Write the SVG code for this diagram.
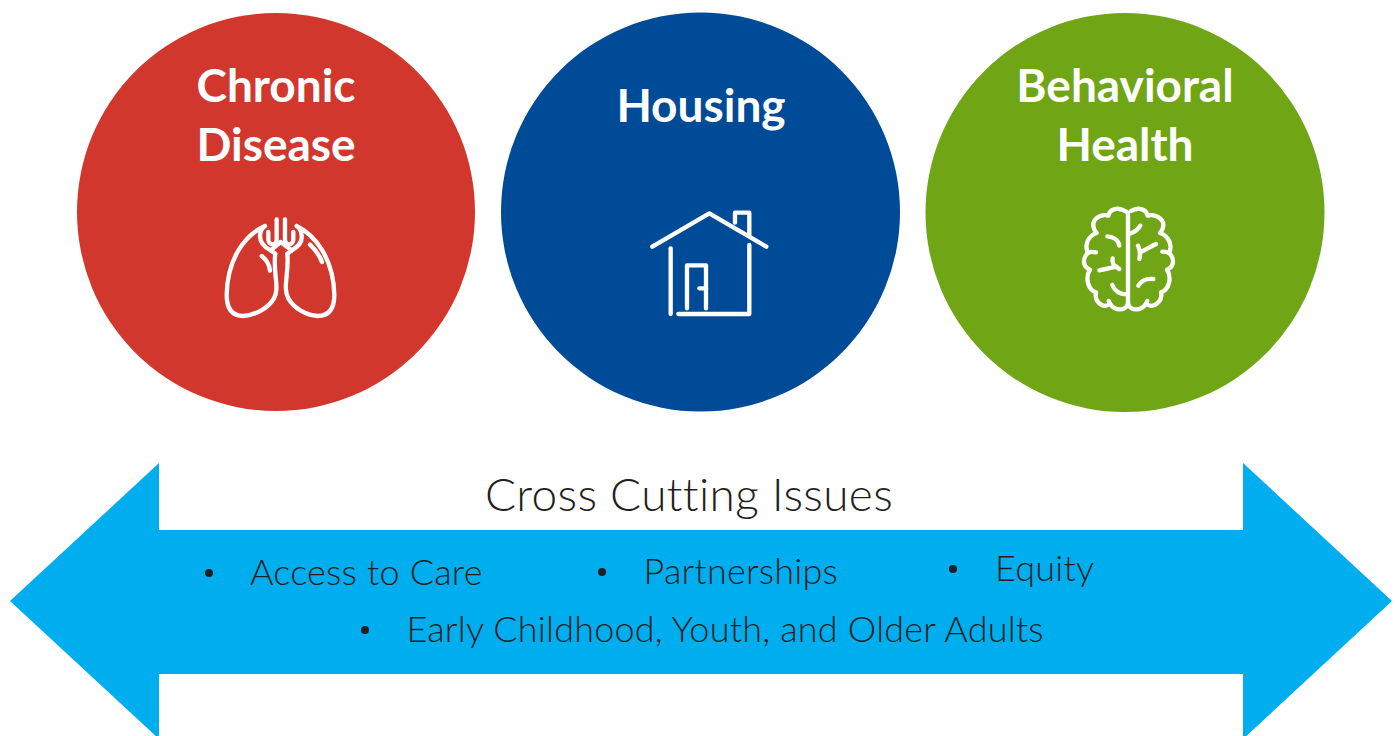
<svg xmlns="http://www.w3.org/2000/svg" width="1395" height="736" viewBox="0 0 1395 736">
<style>
.h{font-family:Lato,"Open Sans",sans-serif;font-weight:700;font-size:46px;fill:#fff;text-anchor:middle}
.t{font-family:Lato,"Open Sans",sans-serif;font-weight:300;font-size:46px;fill:#231f20;text-anchor:middle;letter-spacing:.35px}
.b{font-family:Lato,"Open Sans",sans-serif;font-weight:300;font-size:36px;fill:#231f20;letter-spacing:.2px}
.d{fill:#231f20}
.i{fill:none;stroke:#fff;stroke-linecap:round;stroke-linejoin:round;stroke-width:13}
</style>
<rect width="1395" height="736" fill="#fff"/>
<g id="arrow">
<polygon points="10,601 159,463 159,530 1243,530 1243,463 1392,601 1243,739 1243,674 159,674 159,739" fill="#00aeef"/>
<text class="t" x="689" y="511">Cross Cutting Issues</text>
</g>
<g id="issues">
<circle class="d" cx="209" cy="573" r="4"/><text class="b" x="250" y="585">Access to Care</text>
<circle class="d" cx="602" cy="572" r="4"/><text class="b" x="643.5" y="584">Partnerships</text>
<circle class="d" cx="953" cy="569" r="4"/><text class="b" x="995" y="581">Equity</text>
<circle class="d" cx="365" cy="630" r="4"/><text class="b" x="406.5" y="642">Early Childhood, Youth, and Older Adults</text>
</g>
<g id="chronic-disease">
<circle cx="276" cy="212" r="199" fill="#d2372e"/>
<text class="h" x="276" y="102">Chronic</text>
<text class="h" x="276" y="161">Disease</text>
<g class="i" transform="translate(200 200) scale(.3333)">
<path d="M195 78C135 105 82 175 80 285C80 325 95 348 130 348C165 345 205 325 222 295C240 265 218 215 226 161L212 151C195 142 180 130 180 108C180 95 185 85 195 78"/>
<path d="M290 78C345 105 401 175 403 285C403 325 388 348 353 348C318 345 282 325 265 295C247 265 268 215 262 161L275 151C292 142 307 130 305 108C305 95 300 85 290 78"/>
<path d="M212 151L242 126L275 151"/>
<path d="M205 96V118C205 138 230 138 230 118V58"/>
<path d="M255 58V118C255 138 280 138 280 118V96"/>
<path d="M185 168C198 178 208 192 210 212"/>
<path d="M330 134C345 148 358 165 366 186"/>
</g>
</g>
<g id="housing">
<circle cx="700.5" cy="212" r="199.5" fill="#004b97"/>
<text class="h" x="701" y="122">Housing</text>
<g class="i" transform="translate(630 200) scale(.3333)">
<path d="M67 140L238 40L409 140"/>
<path d="M122 145V342"/>
<path d="M145 342H358V135"/>
<path d="M315 68V38H358V108"/>
<path d="M171 325V196H228V325"/>
<path d="M208 265H228"/>
</g>
</g>
<g id="behavioral-health">
<circle cx="1125" cy="212.500" r="199.5" fill="#70a616"/>
<text class="h" x="1125" y="102">Behavioral</text>
<text class="h" x="1125" y="161">Health</text>
<g class="i" transform="translate(1060 195) scale(.3333)">
<path d="M195 48C175 36 150 40 145 62C125 56 98 70 100 92C101 104 106 110 110 114C85 122 72 150 84 174C68 188 66 215 90 224C74 250 85 285 108 292C102 320 130 344 150 326C165 350 204 350 204 320V60C204 50 200 50 195 48Z"/>
<path d="M213 48C233 36 258 40 263 62C283 56 312 70 310 92C309 104 304 110 300 114C325 122 339 150 327 174C343 188 345 215 321 224C337 250 326 285 303 292C309 320 278 344 258 326C243 350 204 350 204 320"/>
<path d="M142 124C160 125 175 135 178 152"/>
<path d="M118 226C140 222 155 218 170 215M158 190C155 205 160 213 178 222"/>
<path d="M157 270C165 290 180 298 200 298"/>
<path d="M84 174C90 170 98 170 108 172"/>
<path d="M150 326L146 318"/>
<path d="M213 115C225 110 235 102 241 92"/>
<path d="M234 152C240 165 241 180 238 192M241 172C255 165 272 155 288 147"/>
<path d="M235 272C245 255 262 250 280 252"/>
<path d="M327 174C321 170 313 170 307 170"/>
<path d="M258 326L262 318"/>
</g>
</g>
</svg>
